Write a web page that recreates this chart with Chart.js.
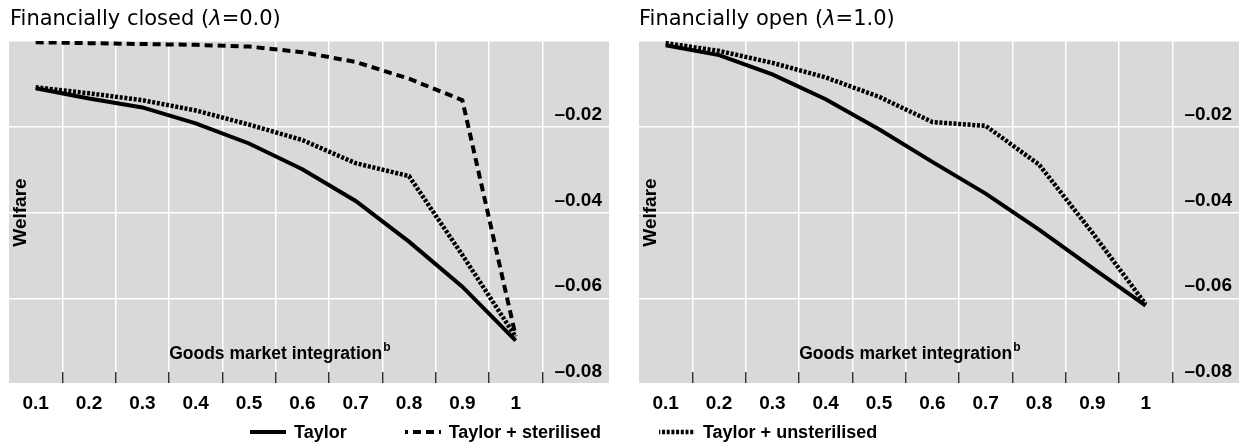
<!DOCTYPE html>
<html>
<head>
<meta charset="utf-8">
<script src="https://cdn.jsdelivr.net/npm/chart.js@4.4.1/dist/chart.umd.min.js"></script>
<style>
  html, body { margin: 0; padding: 0; background: #fff; width: 1239px; height: 446px; overflow: hidden; }
  .panel { position: absolute; top: 0; height: 446px; }
  .title { position: absolute; top: 6px; font-family: "DejaVu Sans", sans-serif; font-size: 21px; line-height: 24px; color: #000; white-space: nowrap; }
  #legend { position: absolute; left: 250px; top: 422px; height: 20px; display: flex; align-items: center;
            font: bold 18px "Liberation Sans", Arial, sans-serif; line-height: 20px; color: #000; white-space: nowrap; }
  .item { display: flex; align-items: center; margin-right: 58px; }
  .item svg { margin-right: 8px; display: block; }
</style>
</head>
<body>
<div class="panel" style="left:0px;width:620px"><canvas id="c1"></canvas></div>
<div class="panel" style="left:619px;width:620px"><canvas id="c2"></canvas></div>
<div class="title" id="t1" style="left:10px"></div>
<div class="title" id="t2" style="left:639px"></div>
<div id="legend"></div>
<script>
// ---------- data ----------
const categories = [0.1, 0.2, 0.3, 0.4, 0.5, 0.6, 0.7, 0.8, 0.9, 1.0];
const tickLabels = ['0.1', '0.2', '0.3', '0.4', '0.5', '0.6', '0.7', '0.8', '0.9', '1'];

const closedTaylor       = [-0.0110, -0.0134, -0.0155, -0.0192, -0.0239, -0.0299, -0.0373, -0.0468, -0.0573, -0.0699];
const closedSterilised   = [-0.0003, -0.0005, -0.0007, -0.0009, -0.0013, -0.0026, -0.0049, -0.0088, -0.0138, -0.0688];
const closedUnsterilised = [-0.0108, -0.0122, -0.0138, -0.0162, -0.0195, -0.0231, -0.0285, -0.0315, -0.0499, -0.0690];

const openTaylor         = [-0.0010, -0.0033, -0.0078, -0.0136, -0.0206, -0.0282, -0.0356, -0.0440, -0.0529, -0.0617];
const openUnsterilised   = [-0.0005, -0.0023, -0.0051, -0.0085, -0.0130, -0.0189, -0.0198, -0.0288, -0.0447, -0.0614];

const yTicks      = [0, -0.02, -0.04, -0.06, -0.08];
const yTickLabels = ['', '–0.02', '–0.04', '–0.06', '–0.08'];

const seriesNames = ['Taylor', 'Taylor + sterilised', 'Taylor + unsterilised'];
const panelTitles = [
  { before: 'Financially closed (', symbol: 'λ', after: '=0.0)' },
  { before: 'Financially open (',   symbol: 'λ', after: '=1.0)' }
];
const xTitle = 'Goods market integration';
const xTitleSup = 'b';
const yTitle = 'Welfare';

// ---------- styles ----------
const seriesStyles = [
  { borderWidth: 4,   borderDash: [] },
  { borderWidth: 4,   borderDash: [8, 5] },
  { borderWidth: 4.5, borderDash: [3, 1.7] }
];
const BOLD = '"Liberation Sans", Arial, sans-serif';
const PLOT_BG = '#d9d9d9';

Chart.defaults.font.family = BOLD;
Chart.defaults.color = '#000';

const xStep = categories[1] - categories[0];
const gridValues = categories.map(c => Math.round((c + xStep / 2) * 1000) / 1000);
const isGrid = v => gridValues.some(g => Math.abs(g - v) < 1e-9);

function makeDataset(idx, values) {
  return {
    label: seriesNames[idx],
    data: categories.map((c, i) => ({ x: c, y: values[i] })),
    borderColor: '#000',
    backgroundColor: '#000',
    borderWidth: seriesStyles[idx].borderWidth,
    borderDash: seriesStyles[idx].borderDash,
    borderCapStyle: 'butt',
    borderJoinStyle: 'miter',
    pointRadius: 0,
    tension: 0,
    fill: false
  };
}

const panelDecor = {
  id: 'panelDecor',
  beforeDraw(chart) {
    const { ctx, chartArea: a } = chart;
    ctx.save();
    ctx.fillStyle = PLOT_BG;
    ctx.fillRect(a.left, a.top, a.right - a.left, a.bottom - a.top);
    ctx.restore();
  },
  beforeDatasetsDraw(chart) {
    const { ctx, chartArea: a } = chart;
    const xs = chart.scales.x;
    // y-axis title inside the plot
    ctx.save();
    ctx.fillStyle = '#000';
    ctx.font = 'bold 19px ' + BOLD;
    ctx.textAlign = 'center';
    ctx.textBaseline = 'middle';
    ctx.translate(a.left + 12, (a.top + a.bottom) / 2);
    ctx.rotate(-Math.PI / 2);
    ctx.fillText(yTitle, 0, 0);
    ctx.restore();
    // x-axis title inside the plot
    ctx.save();
    ctx.fillStyle = '#000';
    ctx.font = 'bold 17.5px ' + BOLD;
    ctx.textAlign = 'left';
    ctx.textBaseline = 'alphabetic';
    const w = ctx.measureText(xTitle).width;
    const centre = xs.getPixelForValue((categories[0] - xStep / 2 + gridValues[gridValues.length - 1]) / 2);
    const x0 = centre - w / 2;
    const base = a.bottom - 25;
    ctx.fillText(xTitle, x0, base);
    ctx.font = 'bold 12px ' + BOLD;
    ctx.fillText(xTitleSup, x0 + w + 1, base - 8);
    ctx.restore();
  }
};

function makePanel(id, datasets, padLeft, padRight) {
  return new Chart(document.getElementById(id), {
    type: 'line',
    data: { datasets },
    plugins: [panelDecor],
    options: {
      responsive: true,
      maintainAspectRatio: false,
      animation: false,
      events: [],
      layout: { padding: { left: padLeft, right: padRight, top: 41, bottom: 22 } },
      plugins: { legend: { display: false }, title: { display: false }, tooltip: { enabled: false } },
      scales: {
        x: {
          type: 'linear',
          position: 'bottom',
          min: categories[0] - xStep / 2,
          max: 1.175,
          afterBuildTicks: s => { s.ticks = categories.concat(gridValues).sort((p, q) => p - q).map(v => ({ value: v })); },
          afterFit: s => { s.height = 40; },
          border: { display: false },
          grid: {
            drawTicks: true,
            tickLength: -12,
            tickWidth: 1.3,
            lineWidth: 1.5,
            color: c => (c.tick && isGrid(c.tick.value)) ? '#ffffff' : 'rgba(0,0,0,0)',
            tickColor: c => (c.tick && isGrid(c.tick.value)) ? '#1a1a1a' : 'rgba(0,0,0,0)'
          },
          ticks: {
            autoSkip: false,
            maxRotation: 0,
            minRotation: 0,
            padding: 20.6,
            color: '#000',
            font: { size: 19, weight: 'bold' },
            callback: v => {
              const i = categories.findIndex(c => Math.abs(c - v) < 1e-9);
              return i >= 0 ? tickLabels[i] : '';
            }
          }
        },
        y: {
          type: 'linear',
          position: 'right',
          min: yTicks[yTicks.length - 1],
          max: yTicks[0],
          afterBuildTicks: s => { s.ticks = yTicks.map(v => ({ value: v })); },
          afterFit: s => { s.width = 0; },
          border: { display: false },
          grid: { drawTicks: false, lineWidth: 1.5, color: '#ffffff' },
          ticks: {
            mirror: true,
            padding: -7,
            labelOffset: -12,
            color: '#000',
            font: { size: 19, weight: 'bold' },
            callback: v => {
              const i = yTicks.findIndex(t => Math.abs(t - v) < 1e-9);
              return i >= 0 ? yTickLabels[i] : '';
            }
          }
        }
      }
    }
  });
}

makePanel('c1', [
  makeDataset(0, closedTaylor),
  makeDataset(1, closedSterilised),
  makeDataset(2, closedUnsterilised)
], 9, 11);

makePanel('c2', [
  makeDataset(0, openTaylor),
  makeDataset(2, openUnsterilised)
], 20, 0);

// ---------- titles ----------
['t1', 't2'].forEach((id, k) => {
  const el = document.getElementById(id);
  el.appendChild(document.createTextNode(panelTitles[k].before));
  const it = document.createElement('i');
  it.textContent = panelTitles[k].symbol;
  el.appendChild(it);
  el.appendChild(document.createTextNode(panelTitles[k].after));
});

// ---------- legend ----------
const legend = document.getElementById('legend');
const SVGNS = 'http://www.w3.org/2000/svg';
seriesNames.forEach((name, i) => {
  const item = document.createElement('div');
  item.className = 'item';
  const svg = document.createElementNS(SVGNS, 'svg');
  svg.setAttribute('width', '36');
  svg.setAttribute('height', '10');
  const ln = document.createElementNS(SVGNS, 'line');
  ln.setAttribute('x1', '0'); ln.setAttribute('y1', '5');
  ln.setAttribute('x2', '36'); ln.setAttribute('y2', '5');
  ln.setAttribute('stroke', '#000');
  ln.setAttribute('stroke-width', String(seriesStyles[i].borderWidth));
  if (seriesStyles[i].borderDash.length) {
    ln.setAttribute('stroke-dasharray', seriesStyles[i].borderDash.join(' '));
    ln.setAttribute('stroke-dashoffset', String(seriesStyles[i].borderDash[1]));
  }
  svg.appendChild(ln);
  const txt = document.createElement('span');
  txt.textContent = name;
  item.appendChild(svg);
  item.appendChild(txt);
  legend.appendChild(item);
});
</script>
</body>
</html>
